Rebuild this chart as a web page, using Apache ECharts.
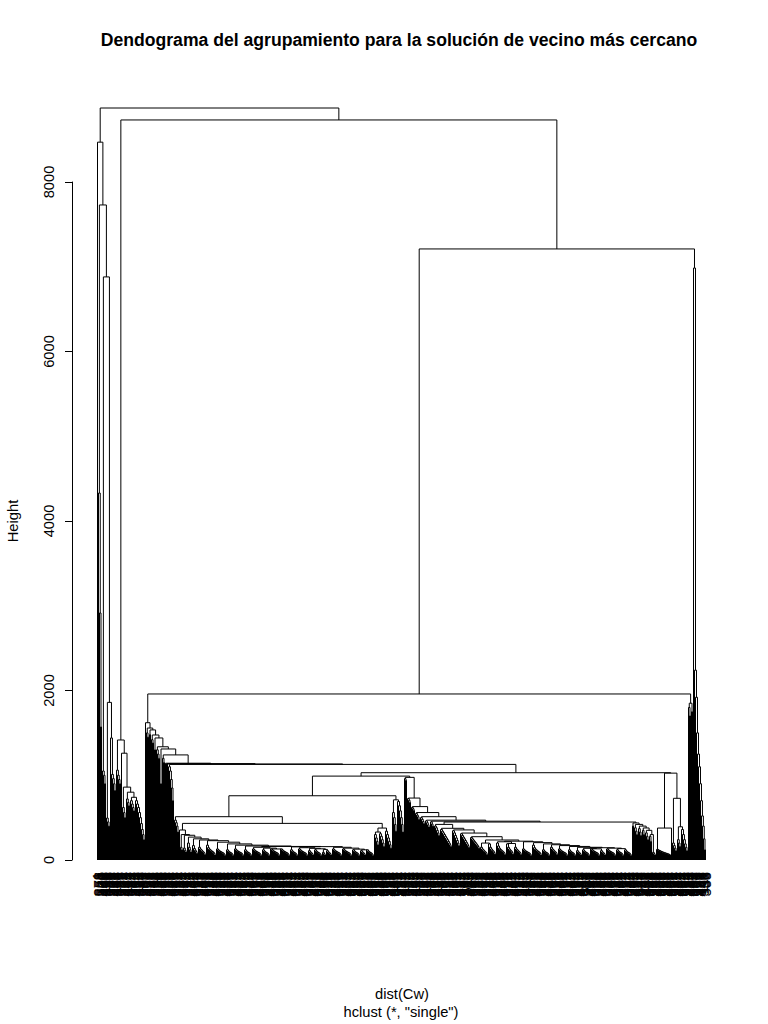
<!DOCTYPE html>
<html><head><meta charset="utf-8">
<script src="https://cdn.jsdelivr.net/npm/echarts@6/dist/echarts.min.js"></script>
<style>html,body{margin:0;padding:0;background:#fff}#c{width:768px;height:1024px}</style>
</head><body><div id="c"></div>
<script>
// ---------- merge heights (single linkage) ----------
const hTop   = [8873, 8732, 7210, 1959];          // root, right of root, big right split, 1959 bar
const hA     = [8470, 7729, 6880, 1860];
const hA3    = [4330, 2915, 1570];
const hA5    = [1050, 1000, 900];
const hA6a   = [495, 450, 400];
const hA6b   = [1440, 1010, 960, 900, 820];
const hB     = [1416];
const hB1    = [1060, 1000, 950, 900];
const hB2    = [1260, 860, 800, 740];
const hB2e1  = [620, 560, 500];
const hB2e2  = [720, 680, 640];
const hB2e3  = [700, 660, 620, 580];
const hB2t   = [700, 660, 620, 560, 500, 430, 360, 300, 240];
const hF     = [1620, 1557, 1535, 1475, 1440, 1336, 1310, 1240, 1142, 1137, 1133];
const hFe    = [[], [1500, 1450], [1480], [1420, 1380], [1300], [1300, 1250, 1200], [900], [1200, 1150], [], [], []];
const hS     = [1100, 1050, 950, 850, 700];
const hT     = [1128, 1030, 990, 758, 511, 432];   // S+T, T, L, X, Y, Y2
const hY1    = [470, 440, 400, 330];
const hY2a   = [354, 300, 292, 270, 250, 236, 228, 210, 190, 175, 165];
const hYt    = [160, 158];
const hYp1   = [150, 140, 130];
const hYp2   = [155, 145, 138, 132, 125];
const hYp3   = [150, 140, 128, 120];
const hY2b   = [377, 330];
const hY2bP1 = [300, 260, 220, 180];
const hY2bP2 = [310, 280, 240, 200, 160];
const hY2bQ  = [340, 300, 260, 220, 180, 140];
const hZ     = [710];
const hZ1    = [560, 500, 420, 340];
const hZ2    = [690, 640, 580, 500, 420, 330];
const hG     = [975, 731, 630, 560, 511, 470, 458, 448];
const hGe    = [[960, 940], [725, 705, 680], [620, 605, 585], [550, 530, 510, 480], [500, 480, 455, 430], [462, 440, 415, 390], [450, 425, 400]];
const hU     = [420, 374, 355, 318, 275, 236, 222, 200, 215, 195];
const hUt    = [215, 205, 190, 180, 170, 160, 150, 145, 138, 132, 140, 134];
const hH     = [437, 420, 400, 378, 350, 300];
const hHe    = [[400], [380, 340, 300], [370, 330, 290], [350, 300], [320, 280, 240], [280, 220]];
const hR     = [1025, 377, 728, 392];
const hR1a   = [125, 118, 112, 106, 100, 95, 90, 86, 82, 78, 74, 70, 66, 60];
const hR2a   = [200, 170, 140, 110];
const hR2b1  = [240, 200, 160];
const hR2b2  = [360, 300, 240, 190, 150, 110];
const hE     = [1850];
const hE1    = [1800, 1700];
const hE2    = [1750];
const hD     = [6985];
const hD2    = [2240, 1920, 1500, 1250, 1100, 900, 700, 520, 400, 250, 120];
// small low clusters of the dense bottom
const u0   = [400, 380, 350, 320, 290];
const u1   = [360, 340, 320, 300, 280, 260, 240, 220, 200, 180, 160];
const u2   = [345, 320, 290, 260, 230, 200, 170];
const u3   = [310, 290, 270, 250, 230, 210, 190, 170, 150];
const u4   = [265, 250, 235, 220, 205, 190, 175, 160, 140];
const p4b  = [140, 115, 95];
const p5a  = [200, 150, 120, 95];
const p6b  = [170, 135, 115, 100, 80];
const p8a  = [190, 150, 130, 115, 105, 90, 70];
const p8b  = [150, 130, 118, 105, 95, 85, 65];
const p10a = [200, 165, 140, 125, 115, 105, 95, 85, 65];
const p10b = [175, 145, 128, 118, 108, 100, 90, 80, 60];
const q4   = [90, 75, 60];
const q6   = [110, 95, 85, 75, 60];
const q8   = [120, 105, 95, 88, 80, 70, 55];
const q10  = [130, 118, 108, 100, 94, 88, 80, 70, 55];
const yTicks = [0, 2000, 4000, 6000, 8000];

// ---------- tree builders ----------
function leaf(){ return {leaf:true}; }
function m(h, a, b){ return {h:h, a:node(a), b:node(b)}; }
function node(e){ return Array.isArray(e) ? ch(e) : e; }
function ch(hs, tail){ let n = tail ? node(tail) : leaf(); for (let i = hs.length-1; i >= 0; i--) n = {h:hs[i], a:leaf(), b:n}; return n; }
function cc(hs, els, tail){ let n = node(tail); for (let i = hs.length-1; i >= 0; i--) n = {h:hs[i], a:node(els[i]), b:n}; return n; }

const A = m(hA[0], leaf(), m(hA[1], hA3, m(hA[2], hA5, m(hA[3], hA6a, hA6b))));
const B = m(hB[0], hB1, cc(hB2, [[], hB2e1, hB2e2, hB2e3], hB2t));
const Y2a = cc(hY2a, [[], [150, 120], p4b, p5a, p6b, p8b, p10b, q10, q8, q10, q8],
  m(hYt[0], cc(hYp1, [q10, q8, q10], q10),
            m(hYt[1], cc(hYp2, [q8, q10, q6, q8, q4], q6),
                      cc(hYp3.slice(0,3), [q10, q10, q8], m(hYp3[3], q6, q8)))));
const Y2b = m(hY2b[0], m(hY2b[1], hY2bP1, hY2bP2), hY2bQ);
const Z = m(hZ[0], hZ1, hZ2);
const Ut = cc(hUt.slice(0,7), [q10, p10b, q8, p8b, q10, q8, q6],
  m(hUt[7], cc([hUt[8], hUt[9]], [q8, q10], q6), cc([hUt[10], hUt[11]], [q10, q8], q8)));
const U = cc(hU.slice(0,7), [u0, u1, u2, u3, u4, m(hU[7], p8b, p8a), m(hU[8], p10a, m(hU[9], p8a, p8b))], Ut);
const H = cc(hH, hHe, q4);
const G = cc(hG.slice(0,7), hGe, m(hG[7], U, H));
const Rc = m(hR[0], m(hR[1], hR1a, leaf()), m(hR[2], hR2a, m(hR[3], hR2b1, hR2b2)));
const T = m(hT[1], m(hT[2], m(hT[3], m(hT[4], hY1, m(hT[5], Y2a, Y2b)), Z), G), Rc);
const F = cc(hF, hFe, m(hT[0], hS, T));
const E = m(hE[0], hE1, hE2);
const D = m(hD[0], leaf(), hD2);
const root = m(hTop[0], A, m(hTop[1], B, m(hTop[2], m(hTop[3], F, E), D)));

// ---------- layout (leaf order, merge centres) ----------
let nLeaf = 0;
const segs = [];
function layout(n){
  if (n.leaf){ nLeaf++; n.x = nLeaf; n.y = 0; return; }
  layout(n.a); layout(n.b);
  n.x = (n.a.x + n.b.x) / 2; n.y = n.h;
  segs.push([n.a.x, n.a.y, n.b.x, n.b.y, n.h]);
}
layout(root);
const N = nLeaf;
// observation numbers of the leaves in dendrogram order
const leafLabels = [];
for (let i = 0; i < N; i++) leafLabels.push(String(((i * 277) % N) + 1));

const FONT = '"Liberation Sans", Arial, Helvetica, sans-serif';
const GRID_LEFT = 97.5;
const chart = echarts.init(document.getElementById('c'), null, {renderer:'svg', width:768, height:1024});
chart.setOption({
  animation:false,
  backgroundColor:'#ffffff',
  textStyle:{fontFamily:FONT},
  grid:{left:GRID_LEFT, right:768 - GRID_LEFT - (N - 1), top:182, bottom:164, containLabel:false, outerBoundsMode:'none'},
  xAxis:[
    {type:'value', min:1, max:N, show:false},
    {type:'category', data:leafLabels, boundaryGap:false, position:'bottom',
     axisLine:{show:false}, axisTick:{show:false}, splitLine:{show:false},
     axisLabel:{interval:0, rotate:90, fontSize:14.7, color:'#000', margin:12, fontFamily:FONT}}
  ],
  yAxis:{type:'value', min:yTicks[0], max:yTicks[yTicks.length-1], interval:2000, offset:25.5,
    axisLine:{show:true, lineStyle:{color:'#000', width:1}},
    axisTick:{show:true, length:7, lineStyle:{color:'#000', width:1}},
    axisLabel:{rotate:90, fontSize:14.7, color:'#000', margin:16, fontFamily:FONT,
               formatter:function(v){ return String(v); }},
    splitLine:{show:false},
    name:'Height', nameLocation:'middle', nameRotate:90, nameGap:52,
    nameTextStyle:{fontSize:14.7, color:'#000', fontFamily:FONT}},
  series:[{
    type:'custom', xAxisIndex:0, yAxisIndex:0, clip:false, silent:true,
    data:segs, encode:{x:[0,2], y:[1,3,4]},
    renderItem:function(params, api){
      const p1 = api.coord([api.value(0), api.value(1)]);
      const p2 = api.coord([api.value(0), api.value(4)]);
      const p3 = api.coord([api.value(2), api.value(4)]);
      const p4 = api.coord([api.value(2), api.value(3)]);
      return {type:'polyline', shape:{points:[p1,p2,p3,p4]}, style:{stroke:'#000', lineWidth:1, fill:null}, silent:true};
    }
  }],
  graphic:[
    {type:'text', x:399, y:40, silent:true, style:{text:'Dendograma del agrupamiento para la solución de vecino más cercano', fill:'#000', font:'bold 17.6px ' + FONT, align:'center', verticalAlign:'middle'}},
    {type:'text', x:402, y:994, silent:true, style:{text:'dist(Cw)', fill:'#000', font:'14.7px ' + FONT, align:'center', verticalAlign:'middle'}},
    {type:'text', x:401, y:1012, silent:true, style:{text:'hclust (*, "single")', fill:'#000', font:'14.7px ' + FONT, align:'center', verticalAlign:'middle'}}
  ]
});
</script></body></html>
